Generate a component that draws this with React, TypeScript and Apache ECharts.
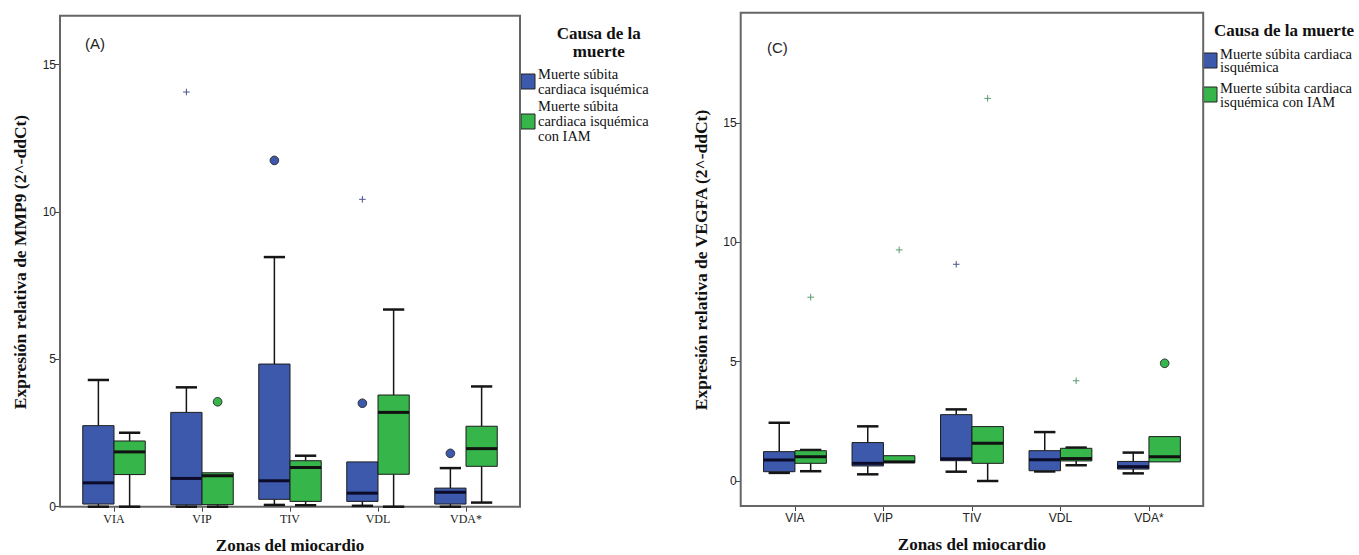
import React, { useEffect, useRef } from "react";
import * as echarts from "echarts";

const categories = ["VIA", "VIP", "TIV", "VDL", "VDA*"];
const legendNames = ["Muerte súbita cardiaca isquémica", "Muerte súbita cardiaca isquémica con IAM"];

// [lower whisker, Q1, median, Q3, upper whisker] per zone
const mmp9Isquemica = [
  [0.0, 0.09, 0.81, 2.75, 4.3],
  [0.0, 0.06, 0.96, 3.2, 4.05],
  [0.06, 0.25, 0.88, 4.84, 8.47],
  [0.03, 0.18, 0.46, 1.52, 1.52],
  [0.0, 0.09, 0.49, 0.63, 1.31],
];
const mmp9Iam = [
  [0.0, 1.09, 1.86, 2.23, 2.51],
  [0.0, 0.07, 1.05, 1.15, 1.15],
  [0.05, 0.18, 1.33, 1.56, 1.73],
  [0.0, 1.1, 3.2, 3.79, 6.69],
  [0.14, 1.37, 1.97, 2.73, 4.08],
];
// [zone index, value, kind: 0 = outlier (circle), 1 = extreme (+)]
const mmp9OutIsquemica = [
  [1, 14.07, 1],
  [2, 11.75, 0],
  [3, 3.51, 0],
  [3, 10.43, 1],
  [4, 1.81, 0],
];
const mmp9OutIam = [[1, 3.56, 0]];

const vegfaIsquemica = [
  [0.34, 0.39, 0.88, 1.23, 2.44],
  [0.28, 0.63, 0.74, 1.61, 2.29],
  [0.39, 0.85, 0.93, 2.78, 3.0],
  [0.4, 0.43, 0.89, 1.27, 2.05],
  [0.32, 0.5, 0.6, 0.82, 1.19],
];
const vegfaIam = [
  [0.41, 0.74, 1.02, 1.27, 1.3],
  [0.77, 0.77, 0.8, 1.06, 1.06],
  [0.0, 0.74, 1.58, 2.28, 2.28],
  [0.66, 0.84, 0.94, 1.37, 1.4],
  [0.78, 0.8, 1.02, 1.86, 1.86],
];
const vegfaOutIsquemica = [[2, 9.08, 1]];
const vegfaOutIam = [
  [0, 7.7, 1],
  [1, 9.68, 1],
  [2, 16.03, 1],
  [3, 4.2, 1],
  [4, 4.93, 0],
];

const Y_MAX_A = 16.66;
const Y_MAX_C = 19.62;
const X_OFFSET_C = 25;

const BLUE = "#3D59AB";
const GREEN = "#36B54A";
const BOX_FRAC = 0.355;

function boxRender(side: number, fill: string, medColor: string) {
  return (params: any, api: any) => {
    const idx = api.value(0);
    const band = api.size([1, 0])[0];
    const cx = api.coord([idx, 0])[0];
    const w = band * BOX_FRAC;
    const x0 = side < 0 ? cx - w : cx;
    const mid = x0 + w / 2;
    const vy = (k: number) => api.coord([idx, api.value(k)])[1];
    const yl = vy(1), yq1 = vy(2), ym = vy(3), yq3 = vy(4), yh = vy(5);
    const cap = w * 0.68;
    const children: any[] = [];
    const wl = { stroke: "#151515", lineWidth: 1.5 };
    const cl = { stroke: "#151515", lineWidth: 2.5 };
    if (Math.abs(yh - yq3) > 0.5) {
      children.push({ type: "line", shape: { x1: mid, y1: yh, x2: mid, y2: yq3 }, style: wl });
      children.push({ type: "line", shape: { x1: mid - cap / 2, y1: yh, x2: mid + cap / 2, y2: yh }, style: cl });
    }
    if (Math.abs(yl - yq1) > 0.5) {
      children.push({ type: "line", shape: { x1: mid, y1: yq1, x2: mid, y2: yl }, style: wl });
      children.push({ type: "line", shape: { x1: mid - cap / 2, y1: yl, x2: mid + cap / 2, y2: yl }, style: cl });
    }
    children.push({
      type: "rect",
      shape: { x: x0, y: yq3, width: w, height: yq1 - yq3 },
      style: { fill, stroke: "#1c1c1c", lineWidth: 1 },
    });
    children.push({ type: "line", shape: { x1: x0, y1: ym, x2: x0 + w, y2: ym }, style: { stroke: medColor, lineWidth: 3 } });
    return { type: "group", children };
  };
}

function outRender(side: number, fill: string, plusColor: string) {
  return (params: any, api: any) => {
    const idx = api.value(0);
    const v = api.value(1);
    const kind = api.value(2);
    const band = api.size([1, 0])[0];
    const w = band * BOX_FRAC;
    const p = api.coord([idx, v]);
    const x = p[0] + (side * w) / 2;
    const y = p[1];
    if (kind === 0) {
      return { type: "circle", shape: { cx: x, cy: y, r: 4.3 }, style: { fill, stroke: "#2a2a2a", lineWidth: 1 } };
    }
    const s = 3.3;
    return {
      type: "group",
      children: [
        { type: "line", shape: { x1: x - s, y1: y, x2: x + s, y2: y }, style: { stroke: plusColor, lineWidth: 1 } },
        { type: "line", shape: { x1: x, y1: y - s, x2: x, y2: y + s }, style: { stroke: plusColor, lineWidth: 1 } },
      ],
    };
  };
}

const SERIF = "'Liberation Serif', 'Times New Roman', serif";
const SANS = "'Liberation Sans', Arial, sans-serif";

function makeXAxis(gridIndex: number, offset: number, labelFont: string) {
  return {
    type: "category",
    gridIndex,
    data: categories,
    offset,
    boundaryGap: true,
    axisLine: { show: false, onZero: false },
    axisTick: { show: true, alignWithLabel: true, length: 5, lineStyle: { color: "#444", width: 1 } },
    axisLabel: { color: "#222", fontSize: 12, fontFamily: labelFont, margin: 6 },
    splitLine: { show: false },
    name: "Zonas del miocardio",
    nameLocation: "middle",
    nameGap: 30,
    nameTextStyle: { color: "#111", fontSize: 17, fontWeight: "bold", fontFamily: SERIF },
  };
}

function makeYAxis(gridIndex: number, max: number) {
  return {
    type: "value",
    gridIndex,
    min: 0,
    max,
    interval: 5,
    offset: 10,
    axisLine: { show: false, onZero: false },
    axisTick: { show: true, length: 5, lineStyle: { color: "#444", width: 1 } },
    axisLabel: {
      color: "#222",
      fontSize: 12,
      fontFamily: "'Liberation Sans Narrow', " + SANS,
      margin: 4,
      showMaxLabel: false,
    },
    splitLine: { show: false },
  };
}

function legendBlock(x: number, swY: number[], lines: { t: string; y: number }[], title: { t: string; y: number }[], titleX: number) {
  const els: any[] = [];
  title.forEach((tl) => {
    els.push({
      type: "text",
      x: titleX,
      y: tl.y,
      style: { text: tl.t, align: "center", verticalAlign: "middle", font: "bold 17px " + SERIF, fill: "#111" },
    });
  });
  els.push({ type: "rect", shape: { x: x, y: swY[0], width: 14, height: 15 }, style: { fill: BLUE, stroke: "#222", lineWidth: 1 } });
  els.push({ type: "rect", shape: { x: x, y: swY[1], width: 14, height: 15 }, style: { fill: GREEN, stroke: "#222", lineWidth: 1 } });
  lines.forEach((ln) => {
    els.push({
      type: "text",
      x: x + 17,
      y: ln.y,
      style: { text: ln.t, align: "left", verticalAlign: "middle", font: "14.5px " + SERIF, fill: "#111" },
    });
  });
  return els;
}

export default function App() {
  const ref = useRef<HTMLDivElement>(null);
  useEffect(() => {
    if (!ref.current) return;
    const chart = echarts.init(ref.current, undefined, { renderer: "svg" });
    const option: any = {
      animation: false,
      backgroundColor: "#fff",
      grid: [
        { left: 70, width: 440, top: 15.7, bottom: 48.3, containLabel: false, outerBoundsMode: "none" },
        { left: 750.7, width: 442.5, top: 12.7, bottom: 74, containLabel: false, outerBoundsMode: "none" },
      ],
      xAxis: [makeXAxis(0, 0, SERIF), makeXAxis(1, X_OFFSET_C, SANS)],
      yAxis: [makeYAxis(0, Y_MAX_A), makeYAxis(1, Y_MAX_C)],
      series: [
        { type: "custom", z: 3, name: legendNames[0], xAxisIndex: 0, yAxisIndex: 0, data: mmp9Isquemica.map((d, i) => [i, ...d]), encode: { x: 0, y: [1, 2, 3, 4, 5] }, renderItem: boxRender(-1, BLUE, "#0c0c2a") },
        { type: "custom", z: 3, name: legendNames[1], xAxisIndex: 0, yAxisIndex: 0, data: mmp9Iam.map((d, i) => [i, ...d]), encode: { x: 0, y: [1, 2, 3, 4, 5] }, renderItem: boxRender(1, GREEN, "#111") },
        { type: "custom", z: 3, xAxisIndex: 0, yAxisIndex: 0, data: mmp9OutIsquemica, encode: { x: 0, y: 1 }, renderItem: outRender(-1, BLUE, "#4a5590") },
        { type: "custom", z: 3, xAxisIndex: 0, yAxisIndex: 0, data: mmp9OutIam, encode: { x: 0, y: 1 }, renderItem: outRender(1, GREEN, "#5a9a70") },
        { type: "custom", z: 3, name: legendNames[0], xAxisIndex: 1, yAxisIndex: 1, data: vegfaIsquemica.map((d, i) => [i, ...d]), encode: { x: 0, y: [1, 2, 3, 4, 5] }, renderItem: boxRender(-1, BLUE, "#0c0c2a") },
        { type: "custom", z: 3, name: legendNames[1], xAxisIndex: 1, yAxisIndex: 1, data: vegfaIam.map((d, i) => [i, ...d]), encode: { x: 0, y: [1, 2, 3, 4, 5] }, renderItem: boxRender(1, GREEN, "#111") },
        { type: "custom", z: 3, xAxisIndex: 1, yAxisIndex: 1, data: vegfaOutIsquemica, encode: { x: 0, y: 1 }, renderItem: outRender(-1, BLUE, "#4a5590") },
        { type: "custom", z: 3, xAxisIndex: 1, yAxisIndex: 1, data: vegfaOutIam, encode: { x: 0, y: 1 }, renderItem: outRender(1, GREEN, "#5a9a70") },
      ],
    };
    chart.setOption(option);

    // frames computed from the axes' own pixel mapping
    const frame = (gridIndex: number, yMax: number, bottomOffset: number) => {
      const a = chart.convertToPixel({ gridIndex } as any, [0, 0]) as number[];
      const b = chart.convertToPixel({ gridIndex } as any, [categories.length - 1, yMax]) as number[];
      const c = chart.convertToPixel({ gridIndex } as any, [1, 0]) as number[];
      const band = c[0] - a[0];
      const x0 = a[0] - band / 2 - 10;
      const x1 = b[0] + band / 2 + 10;
      const y0 = b[1];
      const y1 = a[1] + bottomOffset;
      return { type: "rect", z: 1, shape: { x: x0, y: y0, width: x1 - x0, height: y1 - y0 }, style: { fill: "none", stroke: "#666", lineWidth: 2 } };
    };

    chart.setOption({
      graphic: [
        frame(0, Y_MAX_A, 0),
        frame(1, Y_MAX_C, X_OFFSET_C),
        { type: "text", x: 85, y: 43, style: { text: "(A)", align: "left", verticalAlign: "middle", font: "15px " + SANS, fill: "#222" } },
        { type: "text", x: 767, y: 47.5, style: { text: "(C)", align: "left", verticalAlign: "middle", font: "15px " + SANS, fill: "#222" } },
        {
          type: "text",
          x: 20,
          y: 262,
          rotation: Math.PI / 2,
          style: { text: "Expresión relativa de MMP9 (2^-ddCt)", align: "center", verticalAlign: "middle", font: "bold 17.5px " + SERIF, fill: "#111" },
        },
        {
          type: "text",
          x: 701,
          y: 260,
          rotation: Math.PI / 2,
          style: { text: "Expresión relativa de VEGFA (2^-ddCt)", align: "center", verticalAlign: "middle", font: "bold 17.5px " + SERIF, fill: "#111" },
        },
        ...legendBlock(
          521,
          [74, 114],
          [
            { t: "Muerte súbita", y: 74 },
            { t: "cardiaca isquémica", y: 89 },
            { t: "Muerte súbita", y: 105.5 },
            { t: "cardiaca isquémica", y: 121 },
            { t: "con IAM", y: 136 },
          ],
          [
            { t: "Causa de la", y: 33.6 },
            { t: "muerte", y: 51.3 },
          ],
          598.8
        ),
        ...legendBlock(
          1203,
          [53, 87],
          [
            { t: "Muerte súbita cardiaca", y: 53.5 },
            { t: "isquémica", y: 67 },
            { t: "Muerte súbita cardiaca", y: 88 },
            { t: "isquémica con IAM", y: 101.5 },
          ],
          [{ t: "Causa de la muerte", y: 30.7 }],
          1284
        ),
      ],
    });
    return () => chart.dispose();
  }, []);
  return <div ref={ref} style={{ position: "fixed", left: 0, top: 0, width: 1359, height: 555, background: "#fff" }} />;
}
